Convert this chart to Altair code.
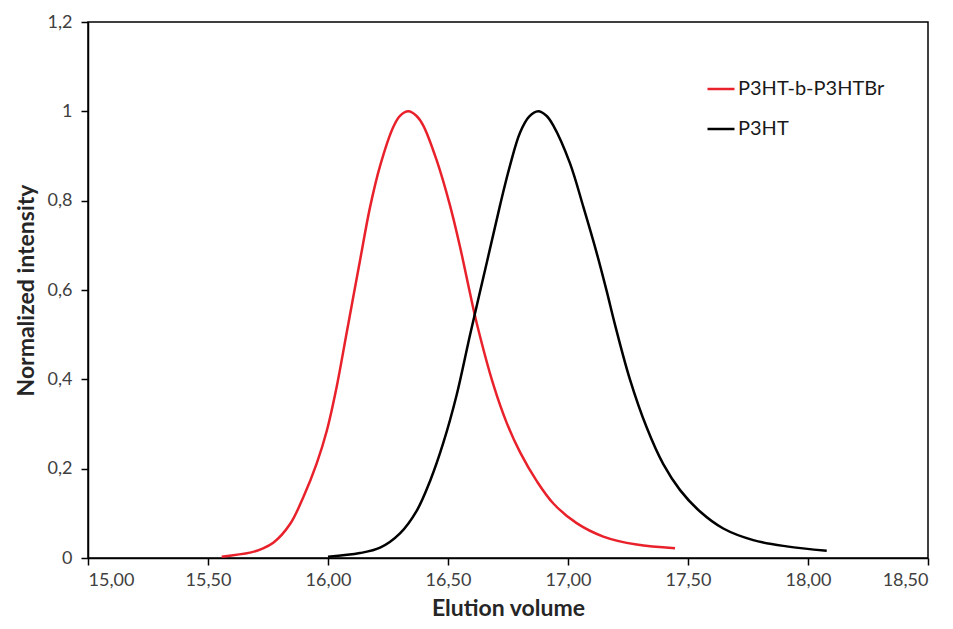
import altair as alt
import pandas as pd

series_names = ["P3HT-b-P3HTBr", "P3HT"]
series_colors = ["#e8212b", "#000000"]

red_x = [15.557, 15.675, 15.722, 15.772, 15.842, 15.897, 15.953, 15.995, 16.036, 16.078,
         16.133, 16.175, 16.217, 16.272, 16.300, 16.335, 16.368, 16.397, 16.453, 16.508,
         16.550, 16.592, 16.620, 16.689, 16.745, 16.800, 16.870, 16.939, 17.036, 17.147,
         17.286, 17.446]
red_y = [0.003, 0.012, 0.020, 0.034, 0.076, 0.136, 0.212, 0.285, 0.383, 0.505,
         0.665, 0.785, 0.878, 0.965, 0.990, 1.000, 0.990, 0.968, 0.890, 0.790,
         0.697, 0.592, 0.525, 0.388, 0.302, 0.237, 0.172, 0.122, 0.078, 0.048,
         0.030, 0.022]

black_x = [16.000, 16.133, 16.217, 16.300, 16.370, 16.425, 16.480, 16.536, 16.592, 16.661,
           16.717, 16.758, 16.800, 16.838, 16.876, 16.910, 16.939, 17.008, 17.064, 17.120,
           17.161, 17.196, 17.258, 17.328, 17.397, 17.467, 17.550, 17.647, 17.772, 17.911,
           18.078]
black_y = [0.003, 0.011, 0.023, 0.055, 0.106, 0.172, 0.257, 0.365, 0.500, 0.660,
           0.790, 0.878, 0.952, 0.988, 1.000, 0.990, 0.968, 0.884, 0.786, 0.682,
           0.598, 0.522, 0.400, 0.292, 0.210, 0.152, 0.104, 0.066, 0.040, 0.026,
           0.016]

x_ticks = [15.0, 15.5, 16.0, 16.5, 17.0, 17.5, 18.0, 18.5]
y_ticks = [0, 0.2, 0.4, 0.6, 0.8, 1.0, 1.2]

df = pd.concat([
    pd.DataFrame({"x": red_x, "y": red_y, "series": series_names[0]}),
    pd.DataFrame({"x": black_x, "y": black_y, "series": series_names[1]}),
])

FONT = "Lato"

chart = alt.Chart(df).mark_line(interpolate="catmull-rom", strokeWidth=2.5).encode(
    x=alt.X("x:Q",
            scale=alt.Scale(domain=[15, 18.5], nice=False, zero=False),
            axis=alt.Axis(values=x_ticks, title="Elution volume", labelPadding=6,
                          labelExpr="replace(format(datum.value, '.2f'), '.', ',')",
                          titleX=420, titleY=50, titleBaseline="middle", titleAlign="center")),
    y=alt.Y("y:Q",
            scale=alt.Scale(domain=[0, 1.2], nice=False),
            axis=alt.Axis(values=y_ticks, title="Normalized intensity", labelPadding=9,
                          labelExpr="replace(format(datum.value, '.1~f'), '.', ',')",
                          titleX=-62, titleY=268, titleAngle=-90,
                          titleBaseline="middle", titleAlign="center")),
    color=alt.Color("series:N",
                    scale=alt.Scale(domain=series_names, range=series_colors),
                    legend=alt.Legend(title=None, orient="none", legendX=618, legendY=52,
                                      symbolType="stroke", symbolSize=729,
                                      symbolStrokeWidth=2.5, labelFontSize=20,
                                      labelFont=FONT, labelColor="#1a1a1a",
                                      labelOffset=2, rowPadding=15)),
).properties(
    width=840, height=536,
    autosize=alt.AutoSizeParams(type="none"),
    padding={"left": 80, "top": 14, "right": 17, "bottom": 63},
).configure_view(
    stroke="#000000", strokeWidth=1.5
).configure_axis(
    grid=False, domainColor="#000000", domainWidth=1.5,
    tickColor="#000000", tickWidth=1.5, tickSize=7,
    labelFont=FONT, labelFontSize=18, labelColor="#404040",
    titleFont=FONT, titleFontSize=23, titleFontWeight="bold", titleColor="#262626",
)

chart.save("out.html", embed_options={"renderer": "svg", "actions": False})
